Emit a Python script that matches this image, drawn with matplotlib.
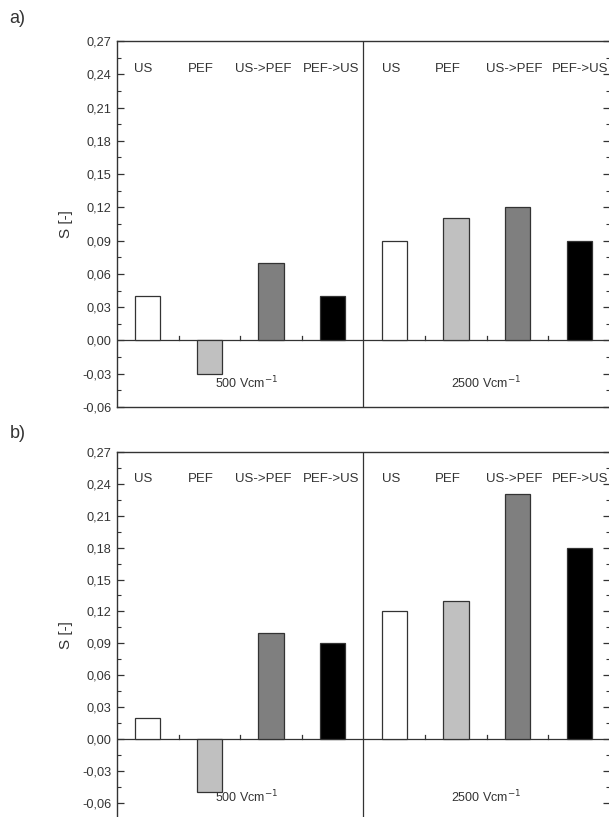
import matplotlib
matplotlib.use("Agg")
import matplotlib.pyplot as plt
from matplotlib.ticker import MultipleLocator, FuncFormatter

plt.rcParams['font.family'] = ['Liberation Sans', 'DejaVu Sans']

# treatments, repeated for both field strengths
treatments = ["US", "PEF", "US->PEF", "PEF->US"]
fields = ["500 Vcm$^{-1}$", "2500 Vcm$^{-1}$"]
bar_colors = ["#ffffff", "#c0c0c0", "#7f7f7f", "#000000"]

# S [-] values, first 500 then 2500 Vcm-1
s_a = [0.04, -0.03, 0.07, 0.04, 0.09, 0.11, 0.12, 0.09]
s_b = [0.02, -0.05, 0.10, 0.09, 0.12, 0.13, 0.23, 0.18]

panel_labels = ["a)", "b)"]
ink = "#333333"

# where the treatment names sit (x in bar-slot units)
name_x = [0.43, 1.36, 2.37, 3.47, 4.45, 5.37, 6.44, 7.52]


def comma_fmt(v, pos):
    return ("%.2f" % v).replace(".", ",")


def draw_panel(ax, values, ylow, field_y):
    n = len(values)
    xs = [i + 0.5 for i in range(n)]
    cols = bar_colors * 2
    ax.bar(xs, values, width=0.41, color=cols, edgecolor=ink, linewidth=0.9, zorder=3)

    ax.set_xlim(0, n)
    ax.set_ylim(ylow, 0.27)
    ax.axhline(0, color=ink, lw=0.9, zorder=2)
    ax.axvline(4, color=ink, lw=0.9, zorder=2)
    # small ticks on the zero line between the bars
    for i in range(1, n):
        if i != 4:
            ax.plot([i, i], [0, 0.004], color=ink, lw=0.9, zorder=2)

    # category names on top of every column
    for i, x in enumerate(name_x):
        ax.text(x, 0.245, treatments[i % 4], ha="center", va="center",
                fontsize=9.5, color=ink)
    ax.text(2.1, field_y, fields[0], ha="center", va="center", fontsize=9, color=ink)
    ax.text(6.0, field_y, fields[1], ha="center", va="center", fontsize=9, color=ink)

    ax.set_xticks([])
    ax.yaxis.set_major_locator(MultipleLocator(0.03))
    ax.yaxis.set_minor_locator(MultipleLocator(0.015))
    ax.yaxis.set_major_formatter(FuncFormatter(comma_fmt))
    ax.tick_params(axis="y", which="both", direction="in", right=True,
                   labelsize=9.2, colors=ink, pad=4)
    ax.tick_params(axis="y", which="major", length=5, width=0.9)
    ax.tick_params(axis="y", which="minor", length=3, width=0.8)
    for sp in ax.spines.values():
        sp.set_color(ink)
        sp.set_linewidth(1.0)
    ax.set_ylabel("S [-]", fontsize=11, color=ink, labelpad=7)


fig = plt.figure(figsize=(6.09, 8.17), dpi=100)
ax_a = fig.add_axes([0.1921, 0.5018, 0.8095, 0.4480])
ax_b = fig.add_axes([0.1921, -0.0021, 0.8095, 0.4489])

draw_panel(ax_a, s_a, -0.06, -0.038)
draw_panel(ax_b, s_b, -0.075, -0.055)

fig.text(0.016, 0.977, panel_labels[0], fontsize=13, color=ink, va="center")
fig.text(0.016, 0.469, panel_labels[1], fontsize=13, color=ink, va="center")

fig.savefig("out.png", dpi=100)
